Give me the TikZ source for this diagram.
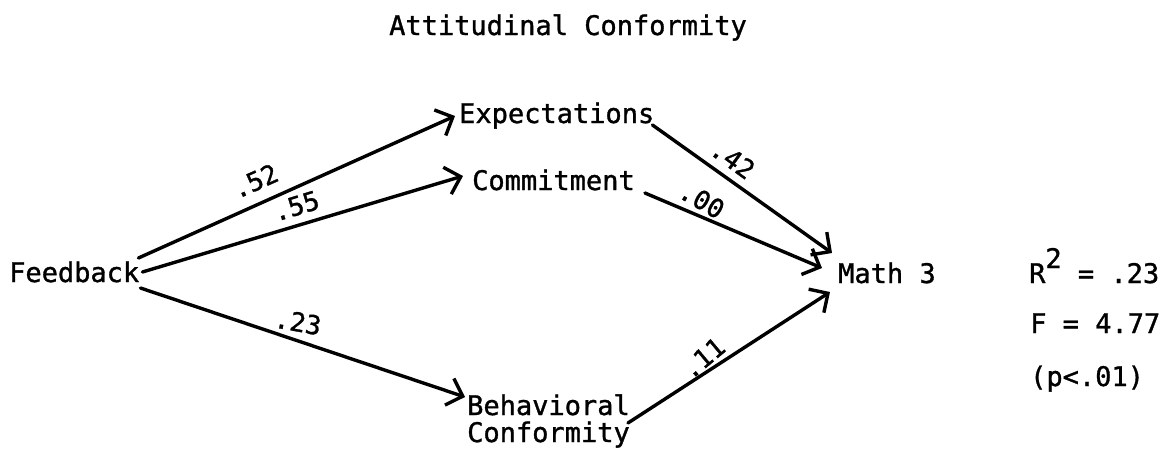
\documentclass[tikz,border=0pt]{standalone}
\usepackage{fontspec}
\newfontfamily\tw[FakeBold=1.2]{DejaVu Sans Mono}
\usetikzlibrary{arrows.meta,calc}
\begin{document}
\begin{tikzpicture}[x=1pt,y=-1pt,
  lbl/.style={font=\tw\fontsize{27}{33}\selectfont, inner sep=0pt, anchor=base west},
  coef/.style={font=\tw\fontsize{26}{30}\selectfont, inner sep=0pt},
  conn/.style={line width=3.4pt, line cap=round, line join=round,
    -{Straight Barb[length=14pt,width=28pt]}}]
\useasboundingbox (0,0) rectangle (1170,459);
% nodes
\node[lbl] (title) at (389,35) {Attitudinal Conformity};
\node[lbl] (fb) at (9,282) {Feedback};
\node[lbl] (exp) at (459,123) {Expectations};
\node[lbl] (com) at (472,190) {Commitment};
\node[lbl] (beh) at (467,415) {Behavioral};
\node[lbl] (conf) at (467,442) {Conformity};
\node[lbl] (math) at (838,283) {Math 3};
\node[lbl] (r2) at (1029,283) {R\raisebox{15pt}{2} = .23};
\node[lbl] (fst) at (1030,333) {F = 4.77};
\node[lbl] (pv) at (1030,386) {(p<.01)};
% connectors
\draw[conn] ($(fb.base east)+(-1,-24)$) -- ($(exp.base west)+(-4,-7)$);
\draw[conn] ($(fb.base east)+(3,-10)$) -- ($(com.base west)+(-9,-14)$);
\draw[conn] ($(fb.base east)+(1,6)$) -- ($(beh.base west)+(-2,-18)$);
\draw[conn] ($(exp.base east)+(-2,2)$) -- ($(math.base west)+(-6,-30)$);
\draw[conn] ($(com.base east)+(10,3)$) -- ($(math.base west)+(-16,-15)$);
\draw[conn] ($(beh.base east)+(-2,8)$) -- ($(math.base west)+(-8,9)$);
% coefficients
\node[coef, rotate=24] (c52) at (255,181) {.52};
\node[coef, rotate=17] (c55) at (296,206) {.55};
\node[coef, rotate=-10] (c23) at (298,322) {.23};
\node[coef, rotate=-36] (c42) at (733,159) {.42};
\node[coef, rotate=-30] (c00) at (702,200) {.00};
\node[coef, rotate=40] (c11) at (703,358) {.11};
\end{tikzpicture}
\end{document}
